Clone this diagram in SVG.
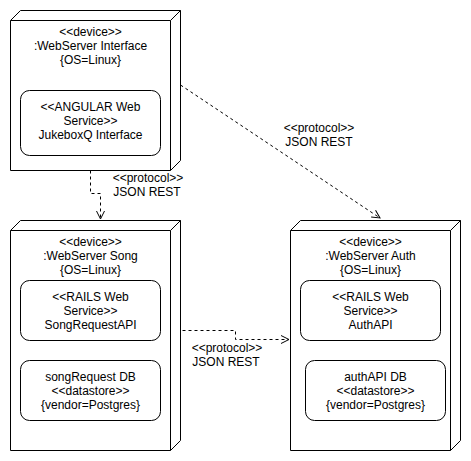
<svg xmlns="http://www.w3.org/2000/svg" width="471" height="461" viewBox="0 0 471 461">
<defs>
<style>
.face{fill:#fff;stroke:#000;stroke-width:1;stroke-linejoin:miter}
.edge{fill:none;stroke:#000;stroke-width:1}
.box{fill:#fff;stroke:#000;stroke-width:1}
.conn{fill:none;stroke:#000;stroke-width:1;stroke-dasharray:3 3}
text{font-family:"Liberation Sans",Arial,Helvetica,sans-serif;font-size:12px;fill:#000;text-anchor:middle}
</style>
<marker id="open" viewBox="0 0 10 10" refX="9" refY="5" markerWidth="10" markerHeight="10" markerUnits="userSpaceOnUse" orient="auto">
<path d="M1,1 L9,5 L1,9" fill="none" stroke="#000" stroke-width="1" stroke-dasharray="none"/>
</marker>
</defs>
<rect width="471" height="461" fill="#fff"/>

<g id="connectors">
<path class="conn" d="M90.5,170.5 V193.5 H100.5 V219" marker-end="url(#open)"/>
<path class="conn" d="M170.5,330.5 H235.5 V339.5 H289" marker-end="url(#open)"/>
<path class="conn" d="M180.5,85 L380,218" marker-end="url(#open)"/>
<text x="148" y="182">&lt;&lt;protocol&gt;&gt;</text>
<text x="147" y="196">JSON REST</text>
<text x="227" y="352">&lt;&lt;protocol&gt;&gt;</text>
<text x="226" y="366">JSON REST</text>
<text x="319" y="132">&lt;&lt;protocol&gt;&gt;</text>
<text x="319" y="146">JSON REST</text>
</g>

<g id="webserver-interface">
<path class="face" d="M10.5,20.5 L20.5,10.5 H180.5 V160.5 L170.5,170.5 H10.5 Z"/>
<path class="edge" d="M10.5,20.5 H170.5 L180.5,10.5 M170.5,20.5 V170.5"/>
<text x="90.5" y="36">&lt;&lt;device&gt;&gt;</text>
<text x="90.5" y="50">:WebServer Interface</text>
<text x="90.5" y="64">{OS=Linux}</text>
<g id="jukeboxq-interface">
<rect class="box" x="20.5" y="90.5" width="140" height="65" rx="9" ry="9"/>
<text x="90.5" y="111">&lt;&lt;ANGULAR Web</text>
<text x="90.5" y="125">Service&gt;&gt;</text>
<text x="90.5" y="139">JukeboxQ Interface</text>
</g>
</g>

<g id="webserver-song">
<path class="face" d="M10.5,230.5 L20.5,220.5 H180.5 V440.5 L170.5,450.5 H10.5 Z"/>
<path class="edge" d="M10.5,230.5 H170.5 L180.5,220.5 M170.5,230.5 V450.5"/>
<text x="90.5" y="246">&lt;&lt;device&gt;&gt;</text>
<text x="90.5" y="260">:WebServer Song</text>
<text x="90.5" y="274">{OS=Linux}</text>
<g id="songrequestapi">
<rect class="box" x="20.5" y="280.5" width="140" height="60" rx="9" ry="9"/>
<text x="90.5" y="300.5">&lt;&lt;RAILS Web</text>
<text x="90.5" y="314.5">Service&gt;&gt;</text>
<text x="90.5" y="328.5">SongRequestAPI</text>
</g>
<g id="songrequest-db">
<rect class="box" x="20.5" y="360.5" width="140" height="60" rx="9" ry="9"/>
<text x="90.5" y="380.5">songRequest DB</text>
<text x="90.5" y="394.5">&lt;&lt;datastore&gt;&gt;</text>
<text x="90.5" y="408.5">{vendor=Postgres}</text>
</g>
</g>

<g id="webserver-auth">
<path class="face" d="M290.5,230.5 L300.5,220.5 H460.5 V440.5 L450.5,450.5 H290.5 Z"/>
<path class="edge" d="M290.5,230.5 H450.5 L460.5,220.5 M450.5,230.5 V450.5"/>
<text x="370.5" y="246">&lt;&lt;device&gt;&gt;</text>
<text x="370.5" y="260">:WebServer Auth</text>
<text x="370.5" y="274">{OS=Linux}</text>
<g id="authapi">
<rect class="box" x="300.5" y="280.5" width="140" height="60" rx="9" ry="9"/>
<text x="370.5" y="300.5">&lt;&lt;RAILS Web</text>
<text x="370.5" y="314.5">Service&gt;&gt;</text>
<text x="370.5" y="328.5">AuthAPI</text>
</g>
<g id="authapi-db">
<rect class="box" x="305.5" y="360.5" width="140" height="60" rx="9" ry="9"/>
<text x="375.5" y="380.5">authAPI DB</text>
<text x="375.5" y="394.5">&lt;&lt;datastore&gt;&gt;</text>
<text x="375.5" y="408.5">{vendor=Postgres}</text>
</g>
</g>
</svg>
